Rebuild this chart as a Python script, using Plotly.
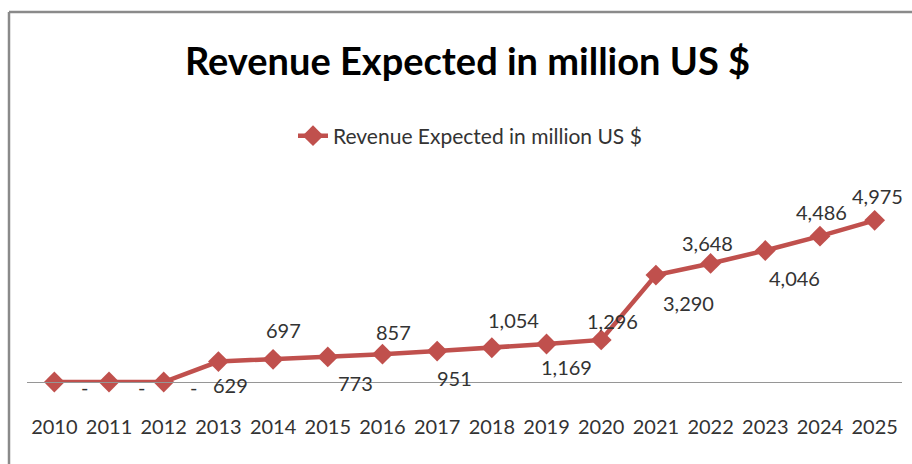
import plotly.graph_objects as go

years = [str(y) for y in range(2010, 2026)]
revenue = [0, 0, 0, 629, 697, 773, 857, 951, 1054, 1169, 1296, 3290, 3648, 4046, 4486, 4975]
series_name = "Revenue Expected in million US $"
title_text = "Revenue Expected in million US $"

# label offsets (pixels) relative to each point
label_dx = [30, 32, 30, 12, 10, 28, 11, 17, 22, 20, 11, 33, -3, 29, 2, 3]
label_dy = [-5, -5, -5, -23, 29, -26, 22, -27, 28, -23, 19, -28, 20, -27, 24, 24]

W, H = 912, 464
ML, MR, MT, MB = 27, 10, 187, 82
PW, PH = W - ML - MR, H - MT - MB
YMAX = 6000

def px_to_paper_x(px):
    return (px - ML) / PW

def px_to_paper_y(py):
    return (H - MB - py) / PH

RED = "#C0504D"
TXT = "#333333"
FONT = "Lato"

fig = go.Figure()
fig.add_trace(go.Scatter(
    x=years, y=revenue, name=series_name, mode="lines+markers",
    line=dict(color=RED, width=4.5),
    marker=dict(symbol="diamond", size=16, color=RED),
    cliponaxis=False,
))

def fmt(v):
    return "-" if v == 0 else f"{v:,}"

for i, (yv, dx, dy) in enumerate(zip(revenue, label_dx, label_dy)):
    fig.add_annotation(x=i, y=yv, xref="x", yref="y", text=fmt(yv), showarrow=False,
                       xshift=dx, yshift=dy,
                       font=dict(family=FONT, size=20, color=TXT))

# chart border (top and left visible)
fig.add_shape(type="line", xref="paper", yref="paper",
              x0=px_to_paper_x(9), x1=px_to_paper_x(W + 5),
              y0=px_to_paper_y(12), y1=px_to_paper_y(12),
              line=dict(color="#8A8A8A", width=2.5))
fig.add_shape(type="line", xref="paper", yref="paper",
              x0=px_to_paper_x(9), x1=px_to_paper_x(9),
              y0=px_to_paper_y(12), y1=px_to_paper_y(H + 5),
              line=dict(color="#8A8A8A", width=2.5))

fig.update_layout(
    width=W, height=H,
    margin=dict(l=ML, r=MR, t=MT, b=MB),
    paper_bgcolor="white", plot_bgcolor="white",
    title=dict(text=f"<b>{title_text}</b>", xref="container", yref="container",
               x=467.5 / W, y=1 - 62 / H, xanchor="center", yanchor="middle",
               font=dict(family=FONT, size=38, color="black")),
    showlegend=True,
    legend=dict(orientation="h", xref="container", yref="container",
                x=293 / W, y=1 - 136 / H, xanchor="left", yanchor="middle",
                font=dict(family=FONT, size=21, color=TXT),
                bgcolor="rgba(0,0,0,0)"),
    xaxis=dict(type="category", range=[-0.5, 15.5], showgrid=False,
               showline=True, linecolor="#969696", linewidth=1,
               ticks="", ticklabelstandoff=27,
               tickfont=dict(family=FONT, size=20, color=TXT), zeroline=False),
    yaxis=dict(range=[0, YMAX], visible=False, showgrid=False, zeroline=False),
)

fig.write_html("out.html", config={"displayModeBar": False},
               post_script="document.body.style.margin='0';")
